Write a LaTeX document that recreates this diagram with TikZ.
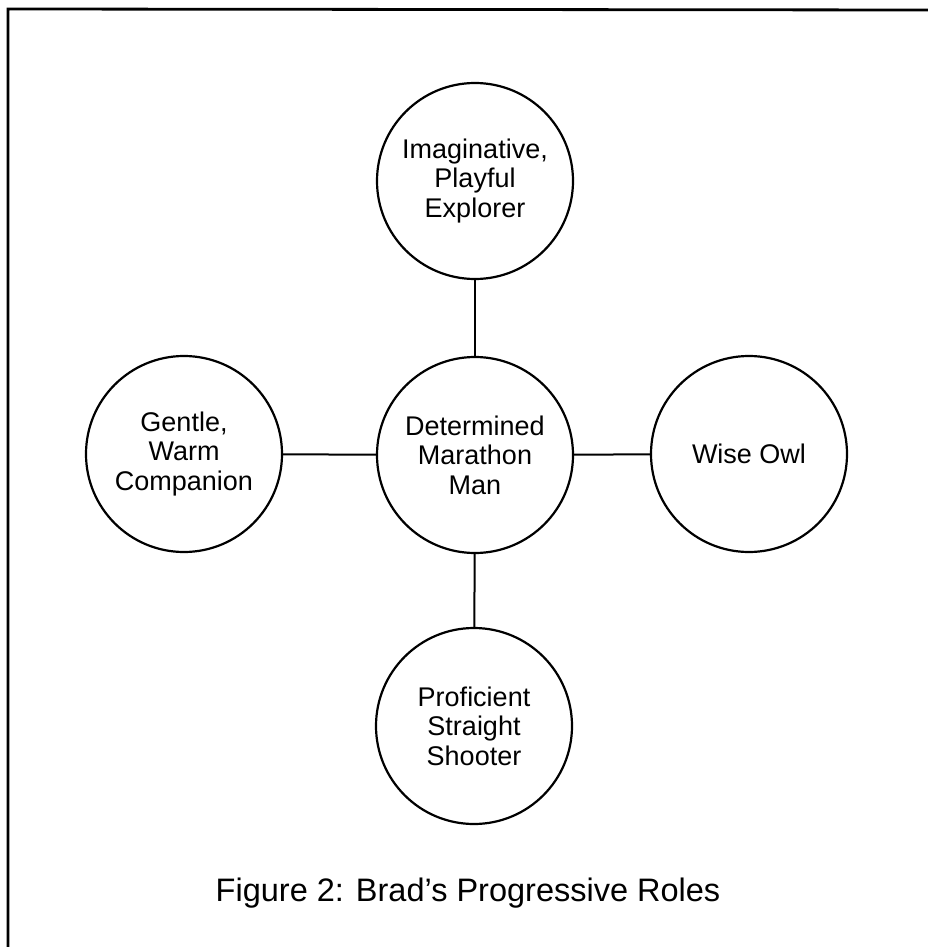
\documentclass[tikz,border=0pt]{standalone}
\usepackage{fontspec}
\setmainfont{Liberation Sans}
\begin{document}
\begin{tikzpicture}[x=1pt,y=-1pt,
  role/.style={circle,draw,line width=2.2pt,minimum size=196pt,inner sep=0pt,align=center,
    font=\fontsize{27}{29.5}\selectfont},
  link/.style={line width=2pt},
  frameline/.style={line width=2.8pt}]
\useasboundingbox (0,0) rectangle (928,947);
\draw[frameline] (8,948) -- (8,9) -- (929,10);
\node[role] (c) at (475,455) {Determined\\Marathon\\Man};
\node[role] (t) at (475,181) {Imaginative,\\Playful\\Explorer};
\node[role] (l) at (184,454) {Gentle,\\Warm\\Companion};
\node[role] (r) at (749,454) {Wise Owl};
\node[role] (b) at (474,726) {Proficient\\Straight\\Shooter};
\draw[link] (c) -- (t);
\draw[link] (c) -- (l);
\draw[link] (c) -- (r);
\draw[link] (c) -- (b);
\node[font=\fontsize{32.5}{36}\selectfont,anchor=base] (cap) at (468,901) {Figure 2: Brad’s Progressive Roles};
\end{tikzpicture}
\end{document}
